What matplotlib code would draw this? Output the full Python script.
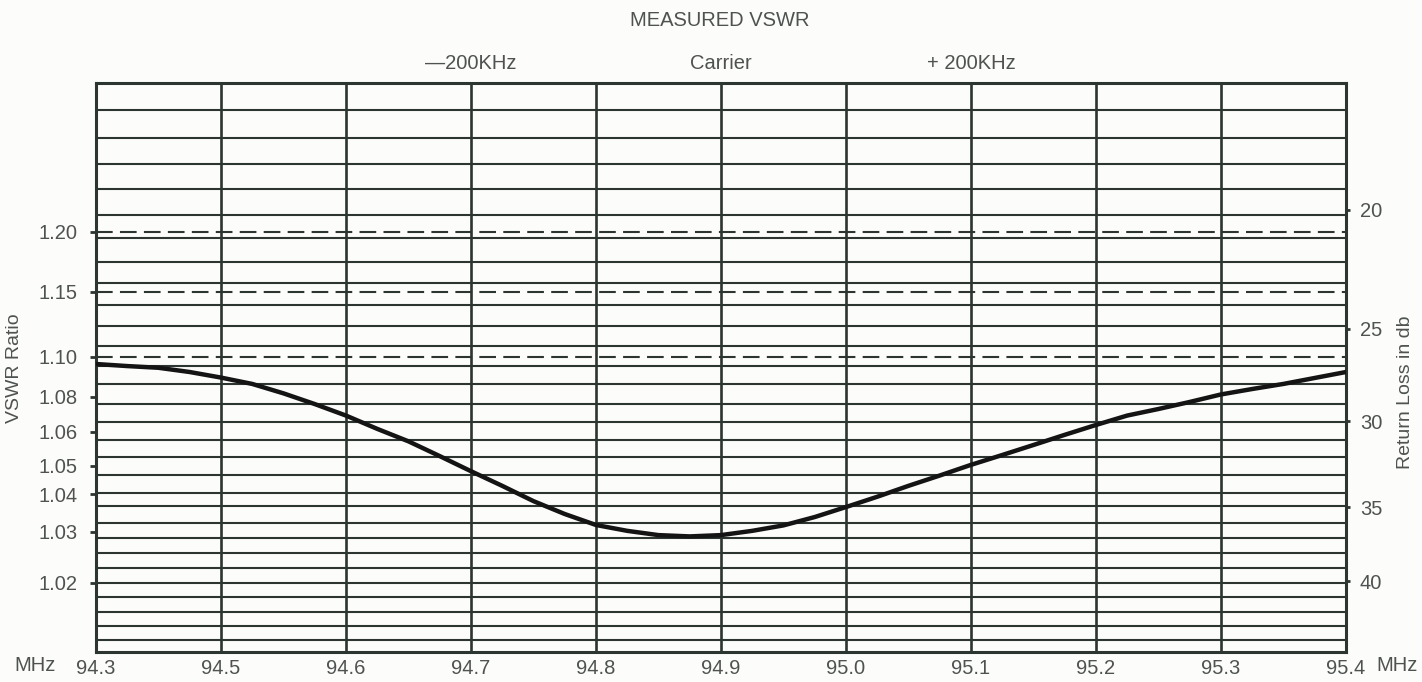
import numpy as np
import matplotlib.pyplot as plt

plt.rcParams['font.family'] = ['Liberation Sans', 'DejaVu Sans']

# frequency axis (MHz) - the chart is printed with 94.3 and 94.5 one column apart
freq_ticks = [94.3, 94.5, 94.6, 94.7, 94.8, 94.9, 95.0, 95.1, 95.2, 95.3, 95.4]
freq_labels = ["94.3", "94.5", "94.6", "94.7", "94.8", "94.9",
               "95.0", "95.1", "95.2", "95.3", "95.4"]

# markers above the chart
marker_freqs = [94.7, 94.9, 95.1]
marker_labels = ["\u2014200KHz", "Carrier", "+ 200KHz"]

# measured curve
curve_freq = [94.3, 94.35, 94.4, 94.45, 94.5, 94.525, 94.55, 94.575, 94.6, 94.625,
              94.65, 94.675, 94.7, 94.725, 94.75, 94.775, 94.8, 94.825, 94.85, 94.875,
              94.9, 94.925, 94.95, 94.975, 95.0, 95.025, 95.05, 95.075, 95.1, 95.125,
              95.15, 95.175, 95.2, 95.225, 95.25, 95.275, 95.3, 95.325, 95.35, 95.375,
              95.4]
curve_vswr = [1.0960, 1.0949, 1.0940, 1.0918, 1.0890, 1.0859, 1.0815, 1.0753, 1.0685, 1.0614,
              1.0570, 1.0527, 1.0480, 1.0428, 1.0380, 1.0344, 1.0316, 1.0302, 1.0292, 1.0289,
              1.0292, 1.0302, 1.0315, 1.0336, 1.0363, 1.0393, 1.0428, 1.0464, 1.0503, 1.0530,
              1.0559, 1.0590, 1.0634, 1.0685, 1.0723, 1.0766, 1.0810, 1.0835, 1.0859, 1.0888,
              1.0918]

# vertical axes
vswr_ticks = [1.02, 1.03, 1.04, 1.05, 1.06, 1.08, 1.10, 1.15, 1.20]
vswr_tick_labels = ["1.02", "1.03", "1.04", "1.05", "1.06", "1.08", "1.10", "1.15", "1.20"]
vswr_limits = [1.10, 1.15, 1.20]
rl_ticks = [20, 25, 30, 35, 40]

# the printed (hand drawn) vswr scale: height of each tick as a fraction of the grid
scale_height = [0.1218, 0.2114, 0.2768, 0.3269, 0.3872, 0.4487, 0.5190, 0.6332, 0.7387]
# horizontal rulings of the chart paper, fraction of the grid height
row_lines = [0.9525, 0.9033, 0.8576, 0.8137, 0.7680, 0.7276, 0.6854, 0.6485, 0.6098,
             0.5729, 0.5378, 0.5026, 0.4710, 0.4359, 0.4042, 0.3726, 0.3427, 0.3111,
             0.2794, 0.2566, 0.2267, 0.2004, 0.1740, 0.1476, 0.1213, 0.0967, 0.0703,
             0.0457, 0.0211]


def interp_ext(x, xp, fp):
    x = np.asarray(x, dtype=float)
    xp = np.asarray(xp, dtype=float)
    fp = np.asarray(fp, dtype=float)
    y = np.interp(x, xp, fp)
    lo = x < xp[0]
    hi = x > xp[-1]
    y = np.where(lo, fp[0] + (x - xp[0]) * (fp[1] - fp[0]) / (xp[1] - xp[0]), y)
    y = np.where(hi, fp[-1] + (x - xp[-1]) * (fp[-1] - fp[-2]) / (xp[-1] - xp[-2]), y)
    return y


log_ticks = np.log10(np.array(vswr_ticks) - 1)


def vswr_fwd(v):
    v = np.asarray(v, dtype=float)
    return interp_ext(np.log10(np.clip(v - 1, 1e-6, None)), log_ticks, scale_height)


def vswr_inv(h):
    return 1 + 10 ** interp_ext(h, scale_height, log_ticks)


cols = np.arange(len(freq_ticks))


def freq_fwd(f):
    return interp_ext(f, freq_ticks, cols)


def freq_inv(c):
    return interp_ext(c, cols, freq_ticks)


def rl_to_vswr(rl):
    g = 10 ** (-np.asarray(rl, dtype=float) / 20)
    return (1 + g) / (1 - g)


ink = '#2c3530'
text_col = '#4e5351'

fig = plt.figure(figsize=(14.22, 6.82), dpi=100, facecolor='#fcfcfa')
ax = fig.add_axes([0.0675, 0.044, 0.879, 0.8343])
ax.set_facecolor('#fcfcfa')

ax.set_xscale('function', functions=(freq_fwd, freq_inv))
ax.set_yscale('function', functions=(vswr_fwd, vswr_inv))
ax.set_xlim(freq_ticks[0], freq_ticks[-1])
ylim = (float(vswr_inv(0.0)), float(vswr_inv(1.0)))
ax.set_ylim(ylim)

# chart paper
ax.hlines(row_lines, 0, 1, transform=ax.transAxes, color=ink, lw=1.5, zorder=1)
ax.set_xticks(freq_ticks, freq_labels)
ax.grid(axis='x', color=ink, lw=1.9, zorder=1)
for v in vswr_limits:
    ax.axhline(v, color=ink, lw=1.5, dashes=(8, 3.5), zorder=2)

ax.plot(curve_freq, curve_vswr, color='#141414', lw=3.2, solid_joinstyle='round',
        solid_capstyle='round', zorder=3)

ax.set_yticks(vswr_ticks, vswr_tick_labels)
ax.tick_params(axis='y', length=4, width=2, color=ink, pad=9, labelsize=14.5, labelcolor=text_col)
ax.tick_params(axis='x', length=0, pad=5, labelsize=14.5, labelcolor=text_col)
for s in ax.spines.values():
    s.set_color(ink)
    s.set_linewidth(2.2)

# return loss on the right
ax2 = ax.twinx()
ax2.set_yscale('function', functions=(vswr_fwd, vswr_inv))
ax2.set_ylim(ylim)
ax2.set_yticks(rl_to_vswr(rl_ticks), [str(r) for r in rl_ticks])
ax2.tick_params(axis='y', length=3, width=2, color=ink, pad=7, labelsize=14.5, labelcolor=text_col)
for s in ax2.spines.values():
    s.set_visible(False)

for f, lab in zip(marker_freqs, marker_labels):
    ax.text(f, 1.034, lab, transform=ax.get_xaxis_transform(), ha='center', va='center',
            fontsize=14.5, color=text_col)

ax.text(-0.0488, -0.023, 'MHz', transform=ax.transAxes, ha='center', va='center',
        fontsize=14.5, color=text_col)
ax.text(1.0408, -0.023, 'MHz', transform=ax.transAxes, ha='center', va='center',
        fontsize=14.5, color=text_col)

fig.text(0.5063, 1 - 20 / 682, 'MEASURED VSWR', ha='center', va='center',
         fontsize=14.5, color=text_col)
fig.text(15 / 1422, 1 - 368 / 682, 'VSWR Ratio', rotation=90, ha='center', va='center',
         fontsize=14, color=text_col)
fig.text(1405 / 1422, 1 - 392 / 682, 'Return Loss in db', rotation=90, ha='center',
         va='center', fontsize=14, color=text_col)

fig.savefig('out.png', dpi=100, facecolor=fig.get_facecolor())
